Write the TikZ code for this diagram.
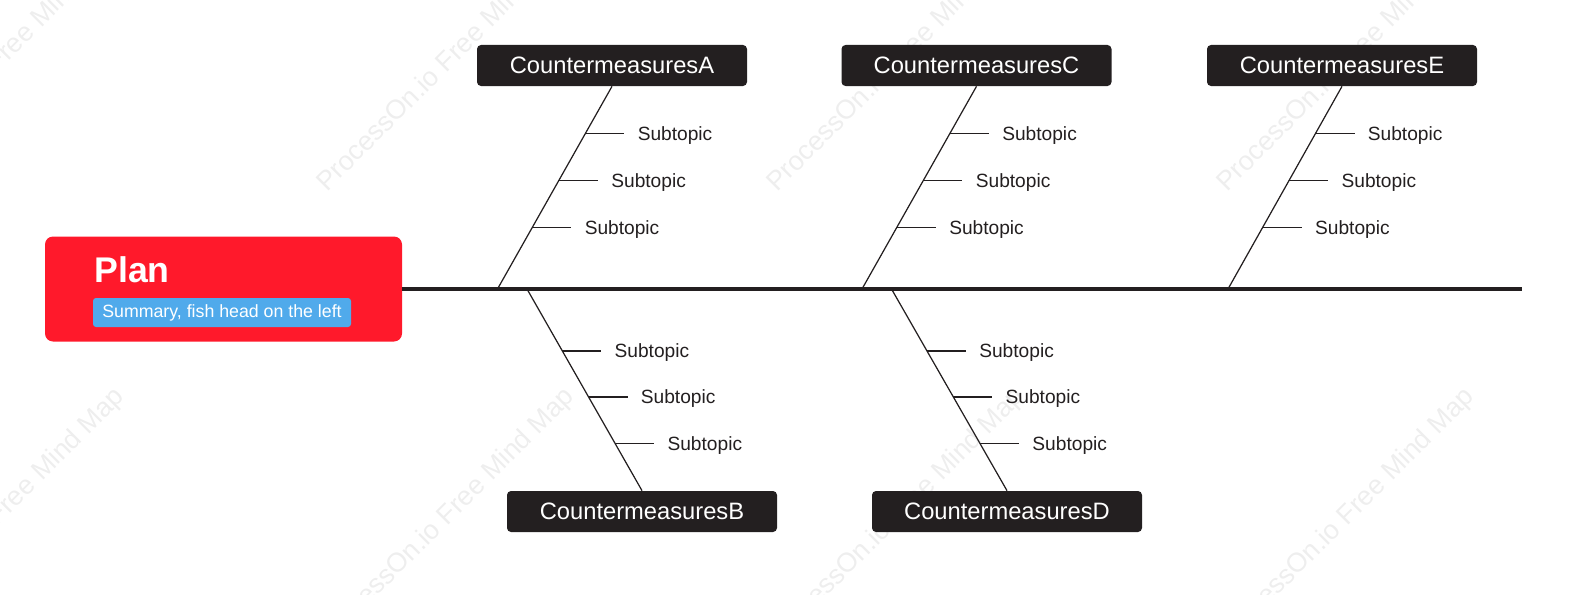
\documentclass[tikz,border=0pt]{standalone}
\usepackage{fontspec}
\setmainfont{Liberation Sans}
\usepackage{xcolor}
\usepackage{tikz}
\usetikzlibrary{positioning}
\definecolor{planred}{RGB}{255, 25, 43}
\definecolor{summblue}{RGB}{80, 170, 235}
\definecolor{boneblack}{RGB}{35, 31, 32}
\definecolor{markgray}{RGB}{238, 238, 238}

\tikzset{
  cmbox/.style={fill=boneblack, text=white, rounded corners=0.08cm,
    minimum width=5.4cm, minimum height=0.82cm, inner sep=0pt,
    font=\fontsize{13.5}{16}\selectfont},
  subtopic/.style={text=boneblack, inner xsep=0.26cm, inner ysep=0pt,
    text depth=0pt, font=\fontsize{10.9}{13}\selectfont},
  bone/.style={draw=boneblack, line width=0.7pt},
  watermark/.style={text=markgray, rotate=45, font=\fontsize{15.3}{18}\selectfont}
}

\begin{document}
\begin{tikzpicture}
        \useasboundingbox (0,0) rectangle (31.4,11.88);
        % watermark
        \begin{scope}
          \clip (0,0) rectangle (31.4,11.88);
          \node[watermark] (w1) at (-0.08,10.60) {ProcessOn.io Free Mind Map};
          \node[watermark] (w2) at (8.92,10.60) {ProcessOn.io Free Mind Map};
          \node[watermark] (w3) at (17.92,10.60) {ProcessOn.io Free Mind Map};
          \node[watermark] (w4) at (26.92,10.60) {ProcessOn.io Free Mind Map};
          \node[watermark] (w5) at (-0.06,1.54) {ProcessOn.io Free Mind Map};
          \node[watermark] (w6) at (8.94,1.54) {ProcessOn.io Free Mind Map};
          \node[watermark] (w7) at (17.94,1.54) {ProcessOn.io Free Mind Map};
          \node[watermark] (w8) at (26.94,1.54) {ProcessOn.io Free Mind Map};
        \end{scope}

        % fish head
        \node[fill=planred, rounded corners=0.16cm, minimum width=7.14cm,
          minimum height=2.10cm] (plan) at (4.47,6.10) {};
        \node[anchor=west, text=white, inner sep=0pt,
          font=\bfseries\fontsize{20.3}{24}\selectfont] (title) at (1.88,6.48) {Plan};
        \node[fill=summblue, text=white, rounded corners=0.06cm, minimum width=5.16cm,
          minimum height=0.58cm, inner sep=0pt,
          font=\fontsize{10.1}{12}\selectfont] (summary) at (4.44,5.63) {Summary, fish head on the left};

        % spine
        \coordinate (tail) at (30.44,6.10);
        \draw[boneblack, line width=1.8pt] (plan.east) -- (tail);

        % countermeasures
        \node[cmbox] (cmA) at (12.24,10.57) {CountermeasuresA};
        \node[cmbox] (cmB) at (12.84,1.65) {CountermeasuresB};
        \node[cmbox] (cmC) at (19.53,10.57) {CountermeasuresC};
        \node[cmbox] (cmD) at (20.14,1.65) {CountermeasuresD};
        \node[cmbox] (cmE) at (26.84,10.57) {CountermeasuresE};

        \coordinate (jA) at (9.95,6.10);
        \coordinate (jB) at (10.54,6.10);
        \coordinate (jC) at (17.24,6.10);
        \coordinate (jD) at (17.83,6.10);
        \coordinate (jE) at (24.56,6.10);

        % bones
        \draw[bone] (jA) -- coordinate[pos=0.305] (a1) coordinate[pos=0.537] (a2)
          coordinate[pos=0.768] (a3) (cmA.south);
        \draw[bone] (jB) -- coordinate[pos=0.307] (b1) coordinate[pos=0.535] (b2)
          coordinate[pos=0.767] (b3) (cmB.north);
        \draw[bone] (jC) -- coordinate[pos=0.305] (c1) coordinate[pos=0.537] (c2)
          coordinate[pos=0.768] (c3) (cmC.south);
        \draw[bone] (jD) -- coordinate[pos=0.307] (d1) coordinate[pos=0.535] (d2)
          coordinate[pos=0.767] (d3) (cmD.north);
        \draw[bone] (jE) -- coordinate[pos=0.305] (e1) coordinate[pos=0.537] (e2)
          coordinate[pos=0.768] (e3) (cmE.south);

        % subtopics
        \node[subtopic, right=0.78cm of a1] (sa1) {Subtopic};
        \node[subtopic, right=0.78cm of a2] (sa2) {Subtopic};
        \node[subtopic, right=0.78cm of a3] (sa3) {Subtopic};
        \node[subtopic, right=0.78cm of b1] (sb1) {Subtopic};
        \node[subtopic, right=0.78cm of b2] (sb2) {Subtopic};
        \node[subtopic, right=0.78cm of b3] (sb3) {Subtopic};
        \node[subtopic, right=0.78cm of c1] (sc1) {Subtopic};
        \node[subtopic, right=0.78cm of c2] (sc2) {Subtopic};
        \node[subtopic, right=0.78cm of c3] (sc3) {Subtopic};
        \node[subtopic, right=0.78cm of d1] (sd1) {Subtopic};
        \node[subtopic, right=0.78cm of d2] (sd2) {Subtopic};
        \node[subtopic, right=0.78cm of d3] (sd3) {Subtopic};
        \node[subtopic, right=0.78cm of e1] (se1) {Subtopic};
        \node[subtopic, right=0.78cm of e2] (se2) {Subtopic};
        \node[subtopic, right=0.78cm of e3] (se3) {Subtopic};

        \draw[bone] (a1) -- (sa1) (a2) -- (sa2) (a3) -- (sa3);
        \draw[bone] (b1) -- (sb1) (b2) -- (sb2) (b3) -- (sb3);
        \draw[bone] (c1) -- (sc1) (c2) -- (sc2) (c3) -- (sc3);
        \draw[bone] (d1) -- (sd1) (d2) -- (sd2) (d3) -- (sd3);
        \draw[bone] (e1) -- (se1) (e2) -- (se2) (e3) -- (se3);
      \end{tikzpicture}
\end{document}
